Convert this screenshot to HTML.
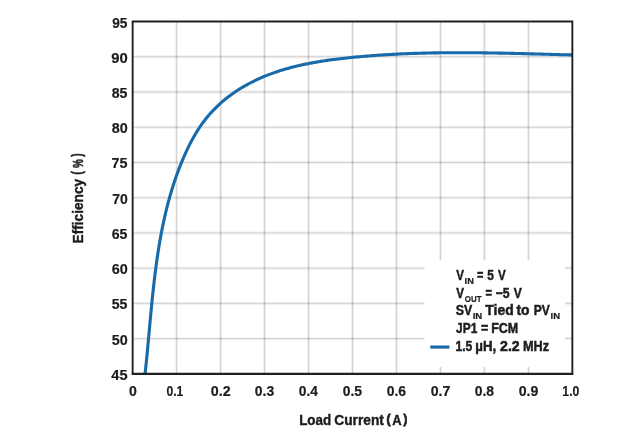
<!DOCTYPE html>
<html><head><meta charset="utf-8"><style>
html,body{margin:0;padding:0;background:#fff;}
body{width:626px;height:441px;overflow:hidden;}
svg{display:block;will-change:transform;}
text{font-family:"Liberation Sans",Arial,sans-serif;font-weight:bold;fill:#1c1c1c;stroke:#1c1c1c;}
</style></head><body>
<svg width="626" height="441" viewBox="0 0 626 441">
  <rect width="626" height="441" fill="#fff"/>
  <g stroke="#000" stroke-opacity="0.055" stroke-width="3">
    <line x1="132.65" y1="56.74" x2="572.35" y2="56.74"/>
    <line x1="176.62" y1="21.5" x2="176.62" y2="373.87"/>
    <line x1="132.65" y1="91.97" x2="572.35" y2="91.97"/>
    <line x1="220.59" y1="21.5" x2="220.59" y2="373.87"/>
    <line x1="132.65" y1="127.21" x2="572.35" y2="127.21"/>
    <line x1="264.56" y1="21.5" x2="264.56" y2="373.87"/>
    <line x1="132.65" y1="162.45" x2="572.35" y2="162.45"/>
    <line x1="308.53" y1="21.5" x2="308.53" y2="373.87"/>
    <line x1="132.65" y1="197.69" x2="572.35" y2="197.69"/>
    <line x1="352.50" y1="21.5" x2="352.50" y2="373.87"/>
    <line x1="132.65" y1="232.92" x2="572.35" y2="232.92"/>
    <line x1="396.47" y1="21.5" x2="396.47" y2="373.87"/>
    <line x1="132.65" y1="268.16" x2="572.35" y2="268.16"/>
    <line x1="440.44" y1="21.5" x2="440.44" y2="373.87"/>
    <line x1="132.65" y1="303.40" x2="572.35" y2="303.40"/>
    <line x1="484.41" y1="21.5" x2="484.41" y2="373.87"/>
    <line x1="132.65" y1="338.63" x2="572.35" y2="338.63"/>
    <line x1="528.38" y1="21.5" x2="528.38" y2="373.87"/>
  </g>
  <g stroke="#000" stroke-opacity="0.13" stroke-width="1">
    <line x1="132.65" y1="56.74" x2="572.35" y2="56.74"/>
    <line x1="176.62" y1="21.5" x2="176.62" y2="373.87"/>
    <line x1="132.65" y1="91.97" x2="572.35" y2="91.97"/>
    <line x1="220.59" y1="21.5" x2="220.59" y2="373.87"/>
    <line x1="132.65" y1="127.21" x2="572.35" y2="127.21"/>
    <line x1="264.56" y1="21.5" x2="264.56" y2="373.87"/>
    <line x1="132.65" y1="162.45" x2="572.35" y2="162.45"/>
    <line x1="308.53" y1="21.5" x2="308.53" y2="373.87"/>
    <line x1="132.65" y1="197.69" x2="572.35" y2="197.69"/>
    <line x1="352.50" y1="21.5" x2="352.50" y2="373.87"/>
    <line x1="132.65" y1="232.92" x2="572.35" y2="232.92"/>
    <line x1="396.47" y1="21.5" x2="396.47" y2="373.87"/>
    <line x1="132.65" y1="268.16" x2="572.35" y2="268.16"/>
    <line x1="440.44" y1="21.5" x2="440.44" y2="373.87"/>
    <line x1="132.65" y1="303.40" x2="572.35" y2="303.40"/>
    <line x1="484.41" y1="21.5" x2="484.41" y2="373.87"/>
    <line x1="132.65" y1="338.63" x2="572.35" y2="338.63"/>
    <line x1="528.38" y1="21.5" x2="528.38" y2="373.87"/>
  </g>
  <rect x="424.5" y="260.3" width="140.5" height="106.8" fill="#fff"/>
  <path d="M145.09,373.67 L145.32,371.54 L145.55,369.40 L145.77,367.27 L145.99,365.13 L146.21,362.98 L146.43,360.84 L146.64,358.69 L146.85,356.55 L147.06,354.40 L147.27,352.25 L147.47,350.10 L147.67,347.94 L147.87,345.79 L148.07,343.63 L148.27,341.47 L148.47,339.31 L148.67,337.15 L148.87,334.99 L149.06,332.83 L149.26,330.66 L149.46,328.50 L149.66,326.33 L149.85,324.17 L150.05,322.00 L150.25,319.83 L150.45,317.66 L150.66,315.50 L150.86,313.33 L151.06,311.16 L151.27,308.99 L151.48,306.82 L151.69,304.65 L151.91,302.48 L152.12,300.31 L152.34,298.14 L152.57,295.97 L152.79,293.80 L153.02,291.63 L153.26,289.46 L153.49,287.29 L153.74,285.12 L153.98,282.96 L154.23,280.79 L154.49,278.62 L154.75,276.46 L155.01,274.29 L155.28,272.13 L155.56,269.97 L155.84,267.80 L156.12,265.64 L156.42,263.48 L156.72,261.32 L157.02,259.17 L157.34,257.01 L157.65,254.86 L157.98,252.71 L158.31,250.55 L158.66,248.40 L159.00,246.26 L159.36,244.11 L159.72,241.97 L160.10,239.82 L160.48,237.68 L160.87,235.55 L161.27,233.41 L161.67,231.28 L162.09,229.15 L162.52,227.02 L162.95,224.89 L163.40,222.77 L163.85,220.64 L164.32,218.53 L164.80,216.41 L165.28,214.30 L165.78,212.18 L166.29,210.08 L166.81,207.97 L167.34,205.87 L167.88,203.77 L168.44,201.68 L169.00,199.58 L169.58,197.49 L170.17,195.41 L170.77,193.33 L171.39,191.25 L172.02,189.17 L172.66,187.10 L173.32,185.03 L173.99,182.97 L174.67,180.91 L175.36,178.85 L176.08,176.80 L176.80,174.75 L177.54,172.71 L178.29,170.67 L179.06,168.64 L179.85,166.61 L180.65,164.58 L181.46,162.56 L182.29,160.54 L183.14,158.53 L184.00,156.52 L184.89,154.52 L185.78,152.53 L186.70,150.55 L187.64,148.58 L188.60,146.62 L189.57,144.67 L190.57,142.73 L191.59,140.80 L192.63,138.89 L193.69,137.00 L194.78,135.11 L195.89,133.25 L197.02,131.40 L198.18,129.57 L199.37,127.76 L200.58,125.97 L201.81,124.20 L203.07,122.45 L204.37,120.72 L205.68,119.02 L207.03,117.34 L208.41,115.68 L209.81,114.05 L211.25,112.45 L212.71,110.87 L214.21,109.31 L215.73,107.79 L217.27,106.29 L218.84,104.81 L220.44,103.36 L222.06,101.94 L223.70,100.54 L225.37,99.17 L227.05,97.83 L228.76,96.51 L230.49,95.22 L232.24,93.95 L234.00,92.71 L235.79,91.50 L237.59,90.31 L239.41,89.15 L241.24,88.02 L243.09,86.91 L244.95,85.83 L246.83,84.78 L248.72,83.75 L250.62,82.75 L252.53,81.78 L254.45,80.83 L256.39,79.90 L258.34,79.00 L260.30,78.13 L262.27,77.27 L264.25,76.44 L266.24,75.64 L268.24,74.85 L270.25,74.09 L272.26,73.35 L274.29,72.63 L276.33,71.94 L278.38,71.26 L280.43,70.60 L282.49,69.96 L284.56,69.35 L286.64,68.75 L288.73,68.17 L290.82,67.60 L292.92,67.06 L295.02,66.53 L297.13,66.02 L299.25,65.52 L301.37,65.04 L303.50,64.58 L305.64,64.13 L307.77,63.70 L309.92,63.28 L312.07,62.88 L314.22,62.48 L316.37,62.11 L318.53,61.74 L320.69,61.39 L322.86,61.05 L325.03,60.72 L327.20,60.40 L329.37,60.09 L331.55,59.79 L333.72,59.50 L335.90,59.23 L338.08,58.96 L340.26,58.70 L342.44,58.44 L344.62,58.20 L346.80,57.96 L348.99,57.73 L351.17,57.51 L353.35,57.29 L355.52,57.08 L357.70,56.88 L359.88,56.68 L362.06,56.48 L364.23,56.30 L366.41,56.11 L368.58,55.94 L370.76,55.77 L372.93,55.60 L375.10,55.44 L377.27,55.28 L379.44,55.14 L381.61,54.99 L383.78,54.85 L385.95,54.72 L388.12,54.59 L390.29,54.46 L392.46,54.34 L394.62,54.23 L396.79,54.12 L398.95,54.01 L401.12,53.91 L403.29,53.82 L405.45,53.72 L407.61,53.64 L409.78,53.55 L411.94,53.47 L414.11,53.40 L416.27,53.33 L418.43,53.26 L420.60,53.20 L422.76,53.14 L424.92,53.09 L427.08,53.04 L429.24,52.99 L431.41,52.95 L433.57,52.91 L435.73,52.87 L437.89,52.84 L440.05,52.81 L442.21,52.78 L444.38,52.76 L446.54,52.74 L448.70,52.73 L450.86,52.71 L453.02,52.70 L455.19,52.70 L457.35,52.69 L459.51,52.69 L461.67,52.69 L463.83,52.70 L466.00,52.70 L468.16,52.71 L470.32,52.73 L472.49,52.74 L474.65,52.76 L476.81,52.78 L478.98,52.80 L481.14,52.82 L483.31,52.85 L485.48,52.88 L487.64,52.91 L489.81,52.94 L491.97,52.98 L494.14,53.01 L496.31,53.05 L498.48,53.09 L500.65,53.13 L502.82,53.17 L504.99,53.22 L507.16,53.26 L509.33,53.31 L511.50,53.36 L513.68,53.41 L515.85,53.46 L518.02,53.51 L520.20,53.56 L522.37,53.62 L524.55,53.67 L526.73,53.73 L528.91,53.78 L531.09,53.84 L533.27,53.90 L535.45,53.96 L537.63,54.02 L539.81,54.07 L541.99,54.13 L544.18,54.20 L546.36,54.26 L548.55,54.32 L550.74,54.38 L552.93,54.44 L555.12,54.50 L557.31,54.56 L559.50,54.62 L561.69,54.68 L563.89,54.74 L566.08,54.80 L568.28,54.86 L570.48,54.92 L572.68,54.98" fill="none" stroke="#186aa9" stroke-width="3.1" stroke-linejoin="round"/>
  <g stroke="#202020" fill="none">
    <path d="M132.65,373.87 V21.5 H572.35 V373.87" stroke-width="1.9"/>
    <line x1="131.70" y1="373.87" x2="573.30" y2="373.87" stroke-width="2.2"/>
  </g>
  <line x1="430.3" y1="347.05" x2="449.4" y2="347.05" stroke="#186aa9" stroke-width="3.2"/>
  <text x="112.29" y="27.50" font-size="14.7" stroke-width="0.2" textLength="15.18" lengthAdjust="spacingAndGlyphs">95</text>
  <text x="111.25" y="62.74" font-size="14.7" stroke-width="0.2" textLength="16.50" lengthAdjust="spacingAndGlyphs">90</text>
  <text x="111.77" y="97.97" font-size="14.7" stroke-width="0.2" textLength="15.71" lengthAdjust="spacingAndGlyphs">85</text>
  <text x="111.76" y="133.21" font-size="14.7" stroke-width="0.2" textLength="15.97" lengthAdjust="spacingAndGlyphs">80</text>
  <text x="111.52" y="168.45" font-size="14.7" stroke-width="0.2" textLength="15.97" lengthAdjust="spacingAndGlyphs">75</text>
  <text x="112.13" y="203.69" font-size="14.7" stroke-width="0.2" textLength="15.58" lengthAdjust="spacingAndGlyphs">70</text>
  <text x="111.77" y="238.92" font-size="14.7" stroke-width="0.2" textLength="15.71" lengthAdjust="spacingAndGlyphs">65</text>
  <text x="111.76" y="274.16" font-size="14.7" stroke-width="0.2" textLength="15.97" lengthAdjust="spacingAndGlyphs">60</text>
  <text x="111.77" y="309.40" font-size="14.7" stroke-width="0.2" textLength="15.71" lengthAdjust="spacingAndGlyphs">55</text>
  <text x="111.76" y="344.63" font-size="14.7" stroke-width="0.2" textLength="15.97" lengthAdjust="spacingAndGlyphs">50</text>
  <text x="111.30" y="379.87" font-size="14.7" stroke-width="0.2" textLength="16.19" lengthAdjust="spacingAndGlyphs">45</text>
  <text x="128.97" y="396.00" font-size="14.7" stroke-width="0.2" textLength="7.82" lengthAdjust="spacingAndGlyphs">0</text>
  <text x="166.49" y="396.00" font-size="14.7" stroke-width="0.2" textLength="16.81" lengthAdjust="spacingAndGlyphs">0.1</text>
  <text x="210.76" y="396.00" font-size="14.7" stroke-width="0.2" textLength="19.84" lengthAdjust="spacingAndGlyphs">0.2</text>
  <text x="254.84" y="396.00" font-size="14.7" stroke-width="0.2" textLength="19.37" lengthAdjust="spacingAndGlyphs">0.3</text>
  <text x="298.81" y="396.00" font-size="14.7" stroke-width="0.2" textLength="19.13" lengthAdjust="spacingAndGlyphs">0.4</text>
  <text x="342.68" y="396.00" font-size="14.7" stroke-width="0.2" textLength="19.32" lengthAdjust="spacingAndGlyphs">0.5</text>
  <text x="386.75" y="396.00" font-size="14.7" stroke-width="0.2" textLength="19.37" lengthAdjust="spacingAndGlyphs">0.6</text>
  <text x="430.71" y="396.00" font-size="14.7" stroke-width="0.2" textLength="19.63" lengthAdjust="spacingAndGlyphs">0.7</text>
  <text x="474.69" y="396.00" font-size="14.7" stroke-width="0.2" textLength="19.37" lengthAdjust="spacingAndGlyphs">0.8</text>
  <text x="518.65" y="396.00" font-size="14.7" stroke-width="0.2" textLength="19.63" lengthAdjust="spacingAndGlyphs">0.9</text>
  <text x="562.32" y="396.00" font-size="14.7" stroke-width="0.2" textLength="17.05" lengthAdjust="spacingAndGlyphs">1.0</text>
  <text x="299.15" y="424.60" font-size="14.9" stroke-width="0.4" textLength="31.97" lengthAdjust="spacingAndGlyphs">Load</text>
  <text x="334.19" y="424.60" font-size="14.9" stroke-width="0.4" textLength="49.72" lengthAdjust="spacingAndGlyphs">Current</text>
  <text x="392.21" y="424.60" font-size="14.9" stroke-width="0.4" textLength="9.39" lengthAdjust="spacingAndGlyphs">A</text>
  <text x="386.44" y="422.95" font-size="12.9" stroke-width="0.8" textLength="4.05" lengthAdjust="spacingAndGlyphs">(</text>
  <text x="403.45" y="422.95" font-size="12.9" stroke-width="0.8" textLength="3.78" lengthAdjust="spacingAndGlyphs">)</text>
  <text x="456.16" y="280.20" font-size="14.85" stroke-width="0.5" textLength="7.72" lengthAdjust="spacingAndGlyphs">V</text>
  <text x="464.62" y="283.70" font-size="9.5" stroke-width="0.2" textLength="9.26" lengthAdjust="spacingAndGlyphs">IN</text>
  <text x="476.98" y="280.20" font-size="14.85" stroke-width="0.5" textLength="6.36" lengthAdjust="spacingAndGlyphs">=</text>
  <text x="487.25" y="280.20" font-size="14.85" stroke-width="0.5" textLength="6.61" lengthAdjust="spacingAndGlyphs">5</text>
  <text x="498.05" y="280.20" font-size="14.85" stroke-width="0.5" textLength="7.77" lengthAdjust="spacingAndGlyphs">V</text>
  <text x="456.16" y="297.80" font-size="14.85" stroke-width="0.5" textLength="7.72" lengthAdjust="spacingAndGlyphs">V</text>
  <text x="464.83" y="301.60" font-size="9.5" stroke-width="0.2" textLength="16.67" lengthAdjust="spacingAndGlyphs">OUT</text>
  <text x="485.58" y="297.80" font-size="14.85" stroke-width="0.5" textLength="6.47" lengthAdjust="spacingAndGlyphs">=</text>
  <text x="495.74" y="297.80" font-size="14.85" stroke-width="0.5" textLength="13.92" lengthAdjust="spacingAndGlyphs">−5</text>
  <text x="513.85" y="297.80" font-size="14.85" stroke-width="0.5" textLength="8.08" lengthAdjust="spacingAndGlyphs">V</text>
  <text x="455.73" y="315.30" font-size="14.85" stroke-width="0.5" textLength="16.48" lengthAdjust="spacingAndGlyphs">SV</text>
  <text x="472.69" y="318.80" font-size="9.5" stroke-width="0.2" textLength="9.62" lengthAdjust="spacingAndGlyphs">IN</text>
  <text x="485.32" y="315.30" font-size="14.85" stroke-width="0.5" textLength="28.37" lengthAdjust="spacingAndGlyphs">Tied</text>
  <text x="516.42" y="315.30" font-size="14.85" stroke-width="0.5" textLength="13.12" lengthAdjust="spacingAndGlyphs">to</text>
  <text x="533.64" y="315.30" font-size="14.85" stroke-width="0.5" textLength="16.06" lengthAdjust="spacingAndGlyphs">PV</text>
  <text x="550.50" y="318.80" font-size="9.5" stroke-width="0.2" textLength="9.50" lengthAdjust="spacingAndGlyphs">IN</text>
  <text x="456.05" y="332.90" font-size="14.85" stroke-width="0.5" textLength="21.24" lengthAdjust="spacingAndGlyphs">JP1</text>
  <text x="481.03" y="332.90" font-size="14.85" stroke-width="0.5" textLength="7.28" lengthAdjust="spacingAndGlyphs">=</text>
  <text x="491.21" y="332.90" font-size="14.85" stroke-width="0.5" textLength="27.00" lengthAdjust="spacingAndGlyphs">FCM</text>
  <text x="455.54" y="350.50" font-size="14.85" stroke-width="0.5" textLength="16.73" lengthAdjust="spacingAndGlyphs">1.5</text>
  <text x="475.36" y="350.50" font-size="14.85" stroke-width="0.5" textLength="20.90" lengthAdjust="spacingAndGlyphs">µH,</text>
  <text x="500.07" y="350.50" font-size="14.85" stroke-width="0.5" textLength="19.69" lengthAdjust="spacingAndGlyphs">2.2</text>
  <text x="522.99" y="350.50" font-size="14.85" stroke-width="0.5" textLength="26.10" lengthAdjust="spacingAndGlyphs">MHz</text>
  <text transform="translate(83.05,243.47) rotate(-90)" font-size="14.8" stroke-width="0.4" textLength="64.57" lengthAdjust="spacingAndGlyphs">Efficiency</text>
  <text transform="translate(82.15,174.47) rotate(-90)" font-size="14.0" stroke-width="0.6" textLength="3.24" lengthAdjust="spacingAndGlyphs">(</text>
  <text transform="translate(83.30,167.98) rotate(-90)" font-size="14.2" stroke-width="0.5" textLength="8.84" lengthAdjust="spacingAndGlyphs">%</text>
  <text transform="translate(82.15,156.55) rotate(-90)" font-size="14.0" stroke-width="0.6" textLength="3.04" lengthAdjust="spacingAndGlyphs">)</text>
</svg>
</body></html>
